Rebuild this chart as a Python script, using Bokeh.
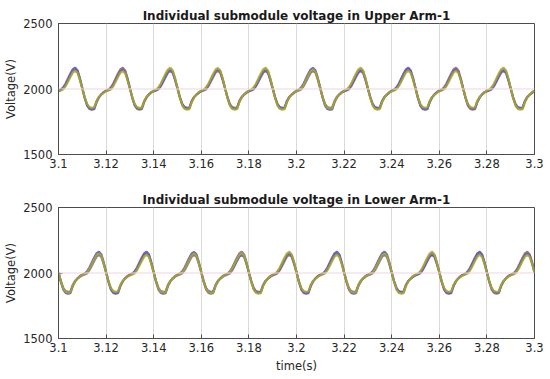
from bokeh.plotting import figure
from bokeh.layouts import column
from bokeh.models import FixedTicker, Span
from bokeh.embed import file_html
from bokeh.resources import INLINE

# ---------------- data ----------------
time_s = [
    3.100, 3.101, 3.102, 3.103, 3.104, 3.105, 3.106, 3.107, 3.108, 3.109, 3.110, 3.111, 3.112, 3.113, 3.114, 3.115, 3.116, 3.117, 3.118, 3.119,
    3.120, 3.121, 3.122, 3.123, 3.124, 3.125, 3.126, 3.127, 3.128, 3.129, 3.130, 3.131, 3.132, 3.133, 3.134, 3.135, 3.136, 3.137, 3.138, 3.139,
    3.140, 3.141, 3.142, 3.143, 3.144, 3.145, 3.146, 3.147, 3.148, 3.149, 3.150, 3.151, 3.152, 3.153, 3.154, 3.155, 3.156, 3.157, 3.158, 3.159,
    3.160, 3.161, 3.162, 3.163, 3.164, 3.165, 3.166, 3.167, 3.168, 3.169, 3.170, 3.171, 3.172, 3.173, 3.174, 3.175, 3.176, 3.177, 3.178, 3.179,
    3.180, 3.181, 3.182, 3.183, 3.184, 3.185, 3.186, 3.187, 3.188, 3.189, 3.190, 3.191, 3.192, 3.193, 3.194, 3.195, 3.196, 3.197, 3.198, 3.199,
    3.200, 3.201, 3.202, 3.203, 3.204, 3.205, 3.206, 3.207, 3.208, 3.209, 3.210, 3.211, 3.212, 3.213, 3.214, 3.215, 3.216, 3.217, 3.218, 3.219,
    3.220, 3.221, 3.222, 3.223, 3.224, 3.225, 3.226, 3.227, 3.228, 3.229, 3.230, 3.231, 3.232, 3.233, 3.234, 3.235, 3.236, 3.237, 3.238, 3.239,
    3.240, 3.241, 3.242, 3.243, 3.244, 3.245, 3.246, 3.247, 3.248, 3.249, 3.250, 3.251, 3.252, 3.253, 3.254, 3.255, 3.256, 3.257, 3.258, 3.259,
    3.260, 3.261, 3.262, 3.263, 3.264, 3.265, 3.266, 3.267, 3.268, 3.269, 3.270, 3.271, 3.272, 3.273, 3.274, 3.275, 3.276, 3.277, 3.278, 3.279,
    3.280, 3.281, 3.282, 3.283, 3.284, 3.285, 3.286, 3.287, 3.288, 3.289, 3.290, 3.291, 3.292, 3.293, 3.294, 3.295, 3.296, 3.297, 3.298, 3.299,
    3.300,
]

# Upper arm, three overlapping submodule traces (V)
upper_sm_blue = [
    1988, 1996, 2012, 2042, 2080, 2118, 2150, 2162, 2142, 2082, 2008, 1932, 1874, 1848, 1843, 1846, 1900, 1936, 1960, 1977,
    1985, 1992, 2005, 2032, 2068, 2105, 2138, 2150, 2132, 2075, 2005, 1935, 1880, 1855, 1850, 1852, 1905, 1938, 1958, 1974,
    1982, 1988, 1998, 2022, 2056, 2092, 2125, 2138, 2122, 2068, 2002, 1938, 1886, 1862, 1857, 1859, 1910, 1940, 1956, 1971,
    1985, 1992, 2004, 2030, 2066, 2103, 2136, 2148, 2131, 2074, 2004, 1934, 1879, 1854, 1849, 1851, 1904, 1937, 1958, 1974,
    1982, 1988, 1998, 2022, 2056, 2092, 2125, 2138, 2122, 2068, 2002, 1938, 1886, 1862, 1857, 1859, 1910, 1940, 1956, 1971,
    1988, 1996, 2012, 2042, 2080, 2118, 2150, 2160, 2141, 2081, 2007, 1931, 1873, 1847, 1842, 1845, 1899, 1936, 1960, 1977,
    1982, 1988, 1998, 2022, 2056, 2092, 2125, 2138, 2122, 2068, 2002, 1938, 1886, 1862, 1857, 1859, 1910, 1940, 1956, 1971,
    1988, 1996, 2012, 2042, 2080, 2118, 2150, 2162, 2142, 2082, 2008, 1932, 1874, 1848, 1843, 1846, 1900, 1936, 1960, 1977,
    1985, 1992, 2005, 2032, 2068, 2105, 2138, 2150, 2132, 2075, 2005, 1935, 1880, 1855, 1850, 1852, 1905, 1938, 1958, 1974,
    1982, 1988, 1998, 2022, 2056, 2092, 2125, 2138, 2122, 2068, 2002, 1938, 1886, 1862, 1857, 1859, 1910, 1940, 1956, 1971,
    1982,
]
upper_sm_olive = [
    1982, 1988, 1998, 2022, 2056, 2092, 2125, 2138, 2122, 2068, 2002, 1938, 1886, 1862, 1857, 1859, 1910, 1940, 1956, 1971,
    1982, 1988, 1997, 2021, 2055, 2091, 2124, 2137, 2121, 2067, 2001, 1937, 1885, 1861, 1856, 1858, 1909, 1940, 1956, 1971,
    1988, 1996, 2012, 2042, 2080, 2118, 2150, 2162, 2142, 2082, 2008, 1932, 1874, 1848, 1843, 1846, 1900, 1936, 1960, 1977,
    1988, 1996, 2012, 2042, 2079, 2117, 2149, 2160, 2141, 2081, 2008, 1932, 1874, 1848, 1843, 1846, 1900, 1936, 1960, 1977,
    1988, 1996, 2012, 2042, 2080, 2118, 2150, 2162, 2142, 2082, 2008, 1932, 1874, 1848, 1843, 1846, 1900, 1936, 1960, 1977,
    1985, 1992, 2005, 2032, 2068, 2105, 2138, 2150, 2132, 2075, 2005, 1935, 1880, 1855, 1850, 1852, 1905, 1938, 1958, 1974,
    1988, 1996, 2012, 2042, 2080, 2118, 2150, 2162, 2142, 2082, 2008, 1932, 1874, 1848, 1843, 1846, 1900, 1936, 1960, 1977,
    1982, 1988, 1998, 2022, 2056, 2092, 2125, 2138, 2122, 2068, 2002, 1938, 1886, 1862, 1857, 1859, 1910, 1940, 1956, 1971,
    1982, 1988, 1998, 2022, 2056, 2092, 2125, 2138, 2122, 2068, 2002, 1938, 1886, 1862, 1857, 1859, 1910, 1940, 1956, 1971,
    1988, 1996, 2012, 2042, 2080, 2118, 2150, 2162, 2142, 2082, 2008, 1932, 1874, 1848, 1843, 1846, 1900, 1936, 1960, 1977,
    1988,
]
upper_sm_violet = [
    1985, 1992, 2005, 2032, 2068, 2105, 2138, 2150, 2132, 2075, 2005, 1935, 1880, 1855, 1850, 1852, 1905, 1938, 1958, 1974,
    1988, 1996, 2012, 2042, 2080, 2118, 2150, 2162, 2142, 2082, 2008, 1932, 1874, 1848, 1843, 1846, 1900, 1936, 1960, 1977,
    1985, 1992, 2005, 2032, 2068, 2105, 2138, 2150, 2132, 2075, 2005, 1935, 1880, 1855, 1850, 1852, 1905, 1938, 1958, 1974,
    1982, 1988, 1998, 2022, 2056, 2092, 2125, 2138, 2122, 2068, 2002, 1938, 1886, 1862, 1857, 1859, 1910, 1940, 1956, 1971,
    1985, 1992, 2005, 2032, 2068, 2105, 2138, 2150, 2132, 2075, 2005, 1935, 1880, 1855, 1850, 1852, 1905, 1938, 1958, 1974,
    1982, 1988, 1998, 2022, 2056, 2092, 2125, 2138, 2122, 2068, 2002, 1938, 1886, 1862, 1857, 1859, 1910, 1940, 1956, 1971,
    1985, 1992, 2005, 2032, 2068, 2105, 2138, 2150, 2132, 2075, 2005, 1935, 1880, 1855, 1850, 1852, 1905, 1938, 1958, 1974,
    1985, 1992, 2005, 2032, 2068, 2105, 2138, 2150, 2132, 2075, 2005, 1935, 1880, 1855, 1850, 1852, 1905, 1938, 1958, 1974,
    1988, 1996, 2012, 2042, 2080, 2118, 2150, 2162, 2142, 2082, 2008, 1932, 1874, 1848, 1843, 1846, 1900, 1936, 1960, 1977,
    1985, 1992, 2005, 2032, 2068, 2105, 2138, 2150, 2132, 2075, 2005, 1935, 1880, 1855, 1850, 1852, 1905, 1938, 1958, 1974,
    1985,
]

# Lower arm, three overlapping submodule traces (V)
lower_sm_blue = [
    2008, 1932, 1874, 1848, 1843, 1846, 1900, 1936, 1960, 1977, 1988, 1996, 2012, 2042, 2080, 2118, 2150, 2162, 2142, 2082,
    2008, 1932, 1874, 1848, 1843, 1846, 1900, 1936, 1960, 1977, 1988, 1996, 2012, 2042, 2080, 2118, 2150, 2162, 2142, 2082,
    2008, 1932, 1874, 1848, 1843, 1846, 1900, 1936, 1960, 1977, 1988, 1996, 2012, 2042, 2080, 2118, 2150, 2161, 2141, 2081,
    2002, 1938, 1886, 1862, 1857, 1859, 1910, 1940, 1956, 1971, 1982, 1988, 1998, 2022, 2056, 2092, 2125, 2138, 2122, 2068,
    2005, 1935, 1880, 1855, 1850, 1852, 1905, 1938, 1958, 1974, 1985, 1992, 2005, 2032, 2068, 2105, 2138, 2150, 2132, 2075,
    2008, 1932, 1874, 1848, 1843, 1846, 1900, 1936, 1960, 1977, 1988, 1996, 2012, 2042, 2080, 2118, 2150, 2162, 2142, 2082,
    2008, 1932, 1874, 1848, 1843, 1846, 1900, 1936, 1960, 1977, 1988, 1996, 2012, 2042, 2080, 2118, 2150, 2162, 2142, 2082,
    2002, 1938, 1886, 1862, 1857, 1859, 1910, 1940, 1956, 1971, 1982, 1988, 1998, 2022, 2056, 2092, 2125, 2138, 2122, 2068,
    2008, 1932, 1874, 1848, 1843, 1846, 1900, 1936, 1960, 1977, 1988, 1996, 2012, 2042, 2080, 2118, 2150, 2162, 2142, 2082,
    2005, 1935, 1880, 1855, 1850, 1852, 1905, 1938, 1958, 1974, 1985, 1992, 2005, 2032, 2068, 2105, 2138, 2150, 2132, 2075,
    2005,
]
lower_sm_olive = [
    2005, 1935, 1880, 1855, 1850, 1852, 1905, 1938, 1958, 1974, 1985, 1992, 2005, 2032, 2068, 2105, 2138, 2150, 2132, 2075,
    2002, 1938, 1886, 1862, 1857, 1859, 1910, 1940, 1956, 1971, 1982, 1988, 1998, 2022, 2056, 2092, 2125, 2138, 2122, 2068,
    2005, 1935, 1880, 1855, 1850, 1852, 1905, 1938, 1958, 1974, 1985, 1992, 2005, 2032, 2068, 2105, 2138, 2150, 2132, 2075,
    2005, 1935, 1880, 1855, 1850, 1852, 1905, 1938, 1958, 1974, 1985, 1992, 2005, 2032, 2068, 2105, 2138, 2150, 2132, 2075,
    2008, 1932, 1874, 1848, 1843, 1846, 1900, 1936, 1960, 1977, 1988, 1996, 2012, 2042, 2080, 2118, 2150, 2162, 2142, 2082,
    2002, 1938, 1886, 1862, 1857, 1859, 1910, 1940, 1956, 1971, 1982, 1988, 1998, 2022, 2056, 2092, 2125, 2138, 2122, 2068,
    2005, 1935, 1880, 1855, 1850, 1852, 1905, 1938, 1958, 1974, 1985, 1992, 2005, 2032, 2068, 2105, 2138, 2150, 2132, 2075,
    2008, 1932, 1874, 1848, 1843, 1846, 1900, 1936, 1960, 1977, 1988, 1996, 2012, 2042, 2080, 2118, 2150, 2162, 2142, 2082,
    2002, 1938, 1886, 1862, 1857, 1859, 1910, 1940, 1956, 1971, 1982, 1988, 1998, 2022, 2056, 2092, 2125, 2138, 2122, 2068,
    2002, 1938, 1886, 1862, 1857, 1859, 1910, 1940, 1956, 1971, 1982, 1988, 1998, 2022, 2056, 2092, 2125, 2138, 2122, 2068,
    2002,
]
lower_sm_violet = [
    2002, 1938, 1886, 1862, 1857, 1859, 1910, 1940, 1956, 1971, 1982, 1988, 1998, 2022, 2056, 2092, 2125, 2138, 2122, 2068,
    2005, 1935, 1880, 1855, 1850, 1852, 1905, 1938, 1958, 1974, 1985, 1992, 2005, 2032, 2068, 2105, 2138, 2150, 2132, 2075,
    2002, 1938, 1886, 1862, 1857, 1859, 1910, 1940, 1956, 1971, 1982, 1988, 1998, 2022, 2056, 2092, 2125, 2138, 2122, 2068,
    2008, 1932, 1874, 1848, 1843, 1846, 1900, 1936, 1960, 1977, 1988, 1996, 2012, 2042, 2080, 2118, 2150, 2162, 2142, 2082,
    2002, 1938, 1886, 1862, 1857, 1859, 1910, 1940, 1956, 1971, 1982, 1988, 1998, 2022, 2056, 2092, 2125, 2138, 2122, 2068,
    2005, 1935, 1880, 1855, 1850, 1852, 1905, 1938, 1958, 1974, 1985, 1992, 2005, 2032, 2068, 2105, 2138, 2150, 2132, 2075,
    2002, 1938, 1886, 1862, 1857, 1859, 1910, 1940, 1956, 1971, 1982, 1988, 1998, 2022, 2056, 2092, 2125, 2138, 2122, 2068,
    2005, 1935, 1880, 1855, 1850, 1852, 1905, 1938, 1958, 1974, 1985, 1992, 2005, 2032, 2068, 2105, 2138, 2150, 2132, 2075,
    2005, 1935, 1880, 1855, 1850, 1852, 1905, 1938, 1958, 1974, 1985, 1992, 2005, 2032, 2068, 2105, 2138, 2150, 2132, 2075,
    2008, 1932, 1874, 1848, 1843, 1846, 1900, 1936, 1960, 1977, 1988, 1996, 2012, 2042, 2080, 2118, 2150, 2162, 2142, 2082,
    2008,
]

x_ticks = [3.1, 3.12, 3.14, 3.16, 3.18, 3.2, 3.22, 3.24, 3.26, 3.28, 3.3]
x_tick_labels = ["3.1", "3.12", "3.14", "3.16", "3.18", "3.2", "3.22", "3.24", "3.26", "3.28", "3.3"]
y_ticks = [1500, 2000, 2500]
nominal_voltage = 2000

titles = ["Individual submodule voltage in Upper Arm-1",
          "Individual submodule voltage in Lower Arm-1"]
y_label = "Voltage(V)"
x_label = "time(s)"

# ---------------- styling ----------------
FONT = "DejaVu Sans"
TXT = "#262626"
FRAME = "#4d4d4d"
trace_colors = ["#4646c8", "#7a6486", "#a8a62a"]
W = 550


def make_panel(title, series, height, top, bottom, show_xlabel):
    p = figure(width=W, height=height, x_range=(3.1, 3.3), y_range=(1500, 2500),
               output_backend="svg", toolbar_location=None,
               min_border_left=58, min_border_right=W - 58 - 476,
               min_border_top=top, min_border_bottom=bottom,
               background_fill_color="white", border_fill_color="white")
    p.title.text = title
    p.title.text_font = FONT
    p.title.text_font_size = "12px"
    p.title.text_font_style = "bold"
    p.title.text_color = "#1a1a1a"
    p.title.align = "center"
    p.title.standoff = 1
    p.outline_line_color = FRAME
    p.outline_line_width = 1

    xa = p.xaxis[0]
    ya = p.yaxis[0]
    xa.ticker = FixedTicker(ticks=x_ticks)
    xa.major_label_overrides = dict(zip(x_ticks, x_tick_labels))
    ya.ticker = FixedTicker(ticks=y_ticks)
    for ax in (xa, ya):
        ax.major_tick_in = 4
        ax.major_tick_out = 0
        ax.minor_tick_line_color = None
        ax.axis_line_color = FRAME
        ax.major_tick_line_color = FRAME
        ax.major_label_text_font = FONT
        ax.major_label_text_font_size = "11.5px"
        ax.major_label_text_color = TXT
        ax.axis_label_text_font = FONT
        ax.axis_label_text_font_size = "11.5px"
        ax.axis_label_text_font_style = "normal"
        ax.axis_label_text_color = TXT
    ya.axis_label = y_label
    ya.major_label_standoff = 6
    ya.axis_label_standoff = 2
    xa.major_label_standoff = 4
    if show_xlabel:
        xa.axis_label = x_label
        xa.axis_label_standoff = 4

    p.xgrid.grid_line_color = "#d9d9d9"
    p.ygrid.grid_line_color = None
    p.add_layout(Span(location=nominal_voltage, dimension="width",
                      line_color="#efd3df", line_width=1))

    for vals, col in zip(series, trace_colors):
        p.line(time_s, vals, line_color=col, line_width=2.2, line_alpha=0.85)
    return p


p_upper = make_panel(titles[0], [upper_sm_blue, upper_sm_violet, upper_sm_olive],
                     180, 23, 26, False)
p_lower = make_panel(titles[1], [lower_sm_blue, lower_sm_violet, lower_sm_olive],
                     199, 27, 41, True)

layout = column(p_upper, p_lower, spacing=0)
open("out.html", "w").write(file_html(layout, INLINE))
